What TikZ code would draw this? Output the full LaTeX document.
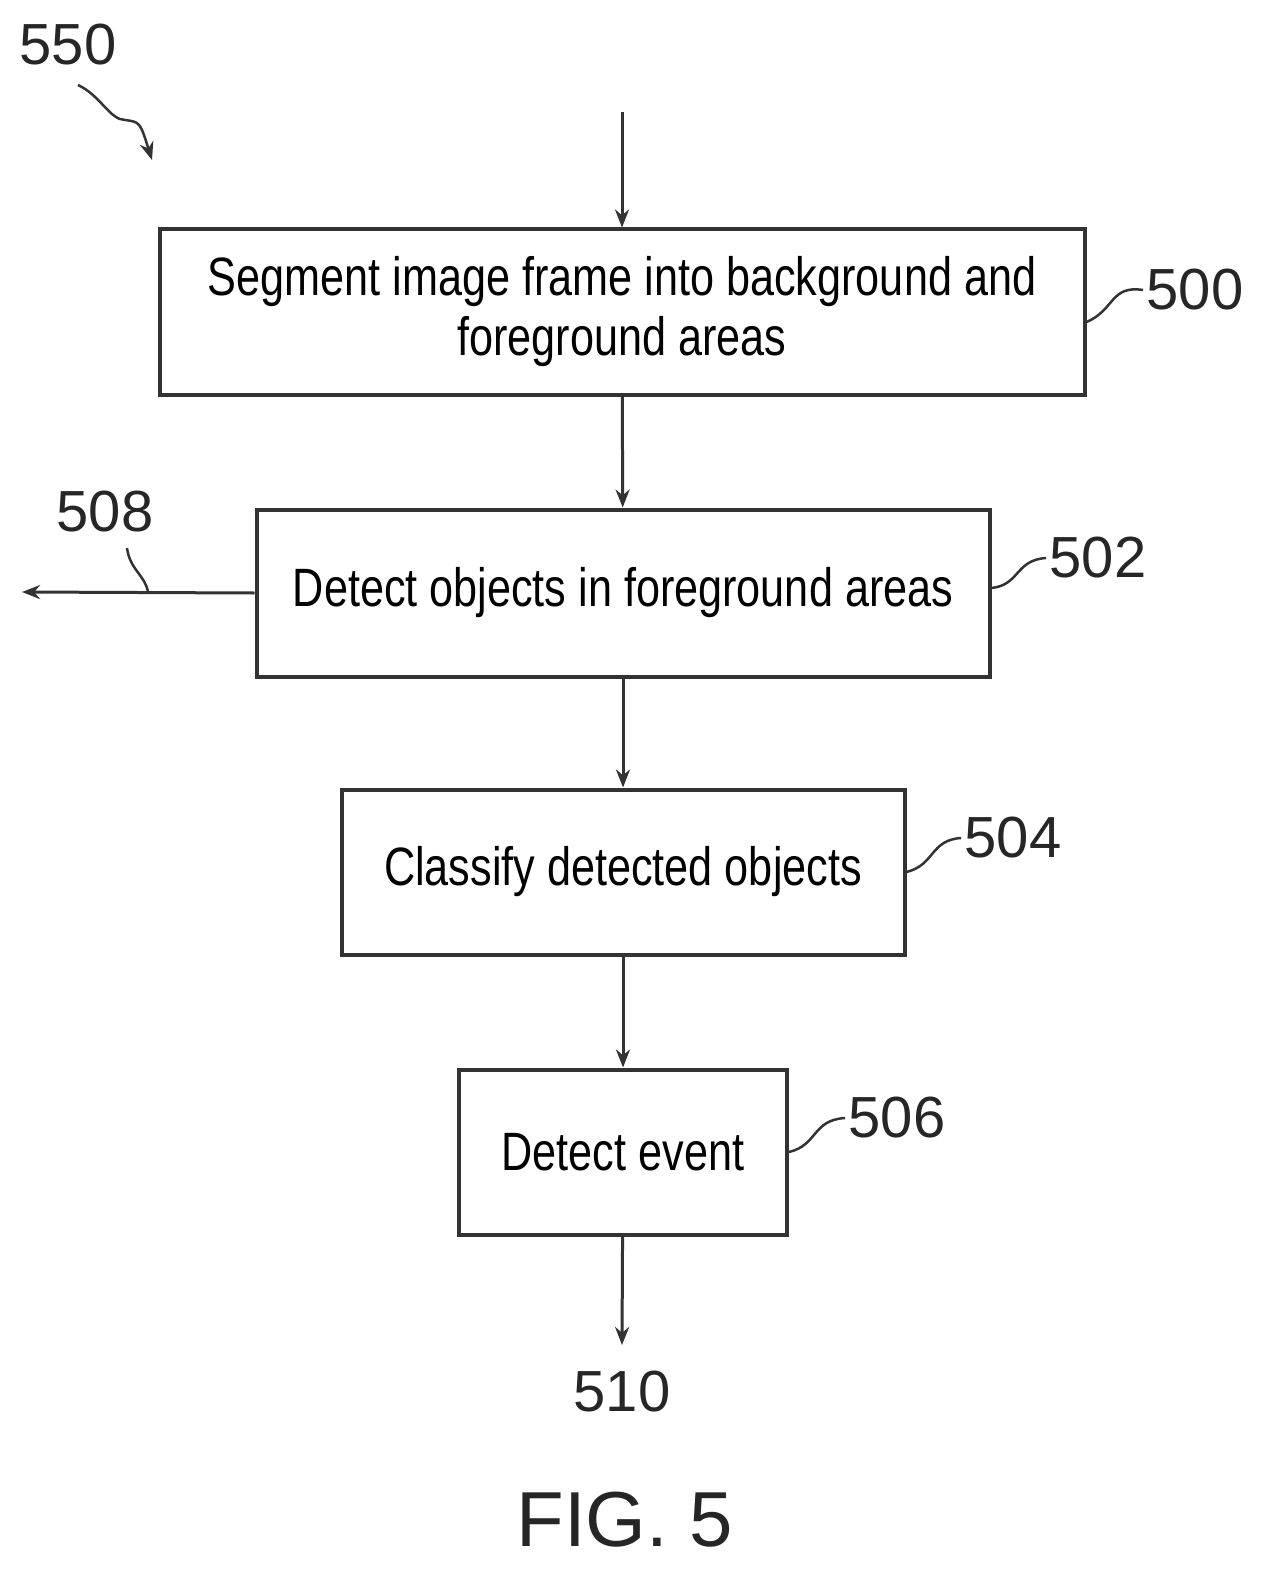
\documentclass[tikz,border=0pt]{standalone}
\usepackage{fontspec}
\setmainfont{Liberation Sans}
\newfontfamily\narrowf[FakeStretch=0.80]{Liberation Sans}
\usetikzlibrary{arrows.meta}
\begin{document}
\begin{tikzpicture}[x=1pt,y=-1pt,
  box/.style={draw=black!80,line width=4pt,inner sep=0pt,font=\narrowf\fontsize{54}{60}\selectfont,align=center},
  arr/.style={draw=black!80,line width=3pt,-{Stealth[length=18pt,width=14pt]}},
  lbl/.style={font=\fontsize{58}{60}\selectfont,text=black!85},
  sq/.style={draw=black!80,line width=2.5pt}]
\useasboundingbox (0,0) rectangle (1271,1578);
\node[box,minimum width=925pt,minimum height=165pt] (b500) at (622,312) {Segment image frame into background and\\foreground areas};
\node[box,minimum width=733pt,minimum height=167pt] (b502) at (623,593) {Detect objects in foreground areas};
\node[box,minimum width=563pt,minimum height=165pt] (b504) at (623,872) {Classify detected objects};
\node[box,minimum width=328pt,minimum height=165pt] (b506) at (623,1152) {Detect event};
\coordinate (top) at (622,112);
\coordinate (left) at (22,592);
\coordinate (bot) at (622,1345);
\draw[arr] (top) -- (b500);
\draw[arr] (b500) -- (b502);
\draw[arr] (b502) -- (b504);
\draw[arr] (b504) -- (b506);
\draw[arr] (b506) -- (bot);
\draw[arr] (b502.west) -- (left);
\node[lbl] (l510) at (622,1392) {510};
\node[lbl] (l508) at (105,512) {508};
\draw[sq] (l508.south) ++(22,12) .. controls (130,570) and (145,575) .. (148,592);
\node[lbl] (l500) at (1195,290) {500};
\draw[sq] (b500.east) ++(0,10) .. controls (1115,310) and (1110,285) .. (l500.west);
\node[lbl] (l502) at (1098,558) {502};
\draw[sq] (b502.east) ++(0,-5) .. controls (1020,585) and (1015,560) .. (l502.west);
\node[lbl] (l504) at (1013,838) {504};
\draw[sq] (b504.east) .. controls (935,865) and (930,840) .. (l504.west);
\node[lbl] (l506) at (897,1118) {506};
\draw[sq] (b506.east) .. controls (818,1145) and (812,1120) .. (l506.west);
\node[lbl] (l550) at (68,45) {550};
\draw[sq,-{Stealth[length=18pt,width=14pt]}] (78,85) .. controls (100,95) and (110,120) .. (125,120) .. controls (140,122) .. (152,160);
\node[font=\fontsize{78}{80}\selectfont,text=black!85] (fig) at (625,1520) {FIG. 5};
\end{tikzpicture}
\end{document}
